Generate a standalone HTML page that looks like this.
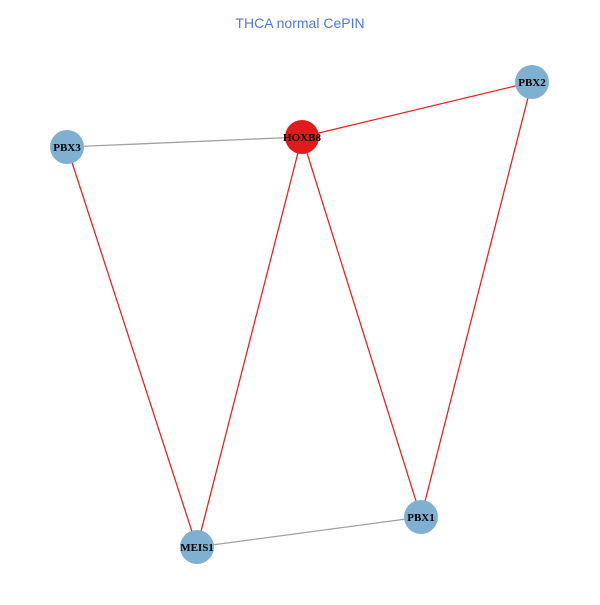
<!DOCTYPE html>
<html><head><style>body{margin:0;background:#fff}</style></head><body>
<svg width="600" height="600" xmlns="http://www.w3.org/2000/svg">
<rect width="600" height="600" fill="#fff"/>
<text x="300" y="28" text-anchor="middle" font-family="Liberation Sans, sans-serif" font-size="14" fill="#4a78e8">THCA normal CePIN</text>
<g stroke-width="1.3">
<line x1="67" y1="147" x2="302" y2="137" stroke="#a0a0a0"/>
<line x1="197" y1="547" x2="421" y2="517" stroke="#a0a0a0"/>
<line x1="302" y1="137" x2="532" y2="82" stroke="#f02020"/>
<line x1="67" y1="147" x2="197" y2="547" stroke="#f02020"/>
<line x1="302" y1="137" x2="197" y2="547" stroke="#f02020"/>
<line x1="302" y1="137" x2="421" y2="517" stroke="#f02020"/>
<line x1="532" y1="82" x2="421" y2="517" stroke="#f02020"/>
</g>
<g fill="#7fb0d2">
<circle cx="67" cy="147" r="17"/>
<circle cx="532" cy="82" r="17"/>
<circle cx="197" cy="547" r="17"/>
<circle cx="421" cy="517" r="17"/>
</g>
<circle cx="302" cy="137" r="17" fill="#e31a1c"/>
<g font-family="Liberation Serif, serif" font-size="11" font-weight="bold" text-anchor="middle" fill="#000">
<text x="302" y="141">HOXB8</text>
<text x="67" y="151">PBX3</text>
<text x="532" y="86">PBX2</text>
<text x="197" y="551">MEIS1</text>
<text x="421" y="521">PBX1</text>
</g>
</svg>
</body></html>
